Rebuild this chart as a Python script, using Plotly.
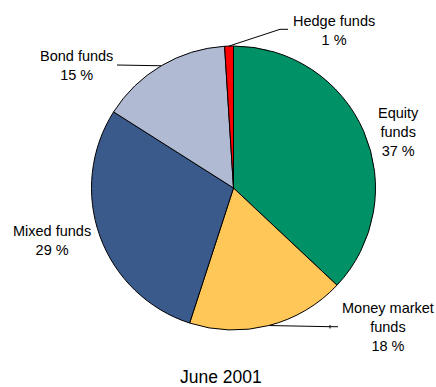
import math
import plotly.graph_objects as go

# Fund assets by category, June 2001 (share of total, %)
categories = ["Equity funds", "Money market funds", "Mixed funds", "Bond funds", "Hedge funds"]
shares = [37, 18, 29, 15, 1]
colors = ["#009167", "#FFC658", "#3A5A8C", "#B0BAD3", "#FF0000"]
wrapped = {
    "Equity funds": "Equity<br>funds",
    "Money market funds": "Money market<br>funds",
    "Mixed funds": "Mixed funds",
    "Bond funds": "Bond funds",
    "Hedge funds": "Hedge funds",
}
caption = "June 2001"

W, H = 436, 387
cx, cy, r = 233.5, 188.0, 142.0  # pie centre and radius in pixels

FONT = "Liberation Sans, Arial, sans-serif"

fig = go.Figure(
    go.Pie(
        labels=categories,
        values=shares,
        sort=False,
        direction="clockwise",
        rotation=0,
        marker=dict(colors=colors, line=dict(color="black", width=1)),
        textinfo="none",
        hoverinfo="label+percent",
        showlegend=False,
        domain=dict(
            x=[(cx - r) / W, (cx + r) / W],
            y=[(H - cy - r) / H, (H - cy + r) / H],
        ),
    )
)


def px(x):
    return x / W


def py(y):
    return 1 - y / H


# point on the rim at the middle of each slice
total = sum(shares)
rim = {}
acc = 0
for name, v in zip(categories, shares):
    mid = (acc + v / 2) / total * 2 * math.pi
    rim[name] = (cx + r * math.sin(mid), cy - r * math.cos(mid))
    acc += v

# label placement (centre x, centre y in pixels)
label_pos = {
    "Equity funds": (398, 132),
    "Money market funds": (388, 327),
    "Mixed funds": (52, 241),
    "Bond funds": (76, 65),
    "Hedge funds": (334, 30.5),
}

annotations = []
for name, v in zip(categories, shares):
    x, y = label_pos[name]
    annotations.append(dict(
        x=px(x), y=py(y), xref="paper", yref="paper",
        text=f"{wrapped[name]}<br>{v} %",
        showarrow=False, xanchor="center", yanchor="middle",
        font=dict(family=FONT, size=14.5, color="black"),
    ))
annotations.append(dict(
    x=px(221), y=py(377), xref="paper", yref="paper", text=caption,
    showarrow=False, xanchor="center", yanchor="middle",
    font=dict(family=FONT, size=17.5, color="black"),
))

# leader lines from slice rims to the labels
leaders = {
    "Hedge funds": [(280, 29.3), (288, 29.3)],
    "Bond funds": [(117, 65)],
    "Money market funds": [(330, 326.7), (338, 326.7)],
}
shapes = []
for name, pts in leaders.items():
    x0, y0 = rim[name]
    path = f"M{px(x0)},{py(y0)}" + "".join(f" L{px(a)},{py(b)}" for a, b in pts)
    shapes.append(dict(type="path", xref="paper", yref="paper", path=path,
                       line=dict(color="black", width=1)))
shapes.append(dict(type="line", xref="paper", yref="paper",
                   x0=px(330), x1=px(330), y0=py(325), y1=py(328.5),
                   line=dict(color="black", width=1)))

fig.update_layout(
    width=W, height=H,
    margin=dict(l=0, r=0, t=0, b=0),
    paper_bgcolor="white", plot_bgcolor="white",
    annotations=annotations, shapes=shapes,
)

fig.write_html("out.html")
